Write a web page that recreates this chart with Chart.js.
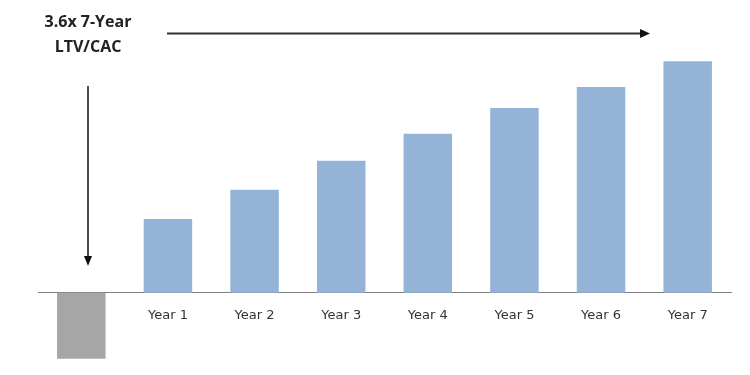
<!DOCTYPE html>
<html>
<head>
<meta charset="utf-8">
<script src="https://cdn.jsdelivr.net/npm/chart.js@4"></script>
<style>
  html, body { margin: 0; padding: 0; background: #fff; }
  #wrap { width: 750px; height: 375px; position: relative; }
</style>
</head>
<body>
<div id="wrap"><canvas id="ltvChart"></canvas></div>
<script>
// categories: first one is the CAC (no label), then the years
const labels = ['', 'Year 1', 'Year 2', 'Year 3', 'Year 4', 'Year 5', 'Year 6', 'Year 7'];
// cumulative LTV vs. CAC (CAC = -1)
const values = [-1.0, 1.12, 1.56, 2.0, 2.41, 2.8, 3.12, 3.51];
const barColors = ['#A6A6A6', '#95B3D7', '#95B3D7', '#95B3D7', '#95B3D7', '#95B3D7', '#95B3D7', '#95B3D7'];
const titleLines = ['3.6x 7-Year', 'LTV/CAC'];

// arrows + heading text
const arrowsPlugin = {
    id: 'arrows',
    afterDraw(chart) {
        const ctx = chart.ctx;
        ctx.save();

        ctx.fillStyle = '#222';
        ctx.font = 'bold 16px "Open Sans", sans-serif';
        ctx.textAlign = 'center';
        ctx.textBaseline = 'middle';
        ctx.fillText(titleLines[0], 88, 22);
        ctx.fillText(titleLines[1], 88, 47);

        // horizontal arrow
        ctx.strokeStyle = '#333';
        ctx.fillStyle = '#111';
        ctx.lineWidth = 2;
        ctx.beginPath();
        ctx.moveTo(167, 33.5);
        ctx.lineTo(641, 33.5);
        ctx.stroke();
        ctx.beginPath();
        ctx.moveTo(650, 33.5);
        ctx.lineTo(640, 29);
        ctx.lineTo(640, 38);
        ctx.closePath();
        ctx.fill();

        // vertical arrow
        ctx.strokeStyle = '#111';
        ctx.lineWidth = 1.5;
        ctx.beginPath();
        ctx.moveTo(88, 86);
        ctx.lineTo(88, 257);
        ctx.stroke();
        ctx.beginPath();
        ctx.moveTo(88, 266);
        ctx.lineTo(84, 256);
        ctx.lineTo(92, 256);
        ctx.closePath();
        ctx.fill();

        ctx.restore();
    }
};

const config = {
    type: 'bar',
    data: {
        labels: labels,
        datasets: [
            {
                data: values,
                backgroundColor: barColors,
                categoryPercentage: 1,
                barPercentage: 0.56,
            },
        ],
    },
    options: {
        responsive: true,
        maintainAspectRatio: false,
        animation: false,
        layout: {
            padding: { left: 38, right: 19, top: 42, bottom: 3 },
        },
        plugins: {
            legend: { display: false },
            tooltip: { enabled: false },
            title: { display: false },
        },
        scales: {
            x: {
                position: { y: 0 },
                grid: { display: false },
                border: { display: true, color: '#7f7f7f', width: 1 },
                ticks: {
                    color: '#333',
                    font: { family: '"DejaVu Sans", sans-serif', size: 13 },
                    padding: 7,
                },
            },
            y: {
                display: false,
                min: -1.2,
                max: 3.8,
            },
        },
    },
    plugins: [arrowsPlugin],
};

var ctx = document.getElementById('ltvChart').getContext('2d');
var ltvChart = new Chart(ctx, config);
</script>
</body>
</html>
